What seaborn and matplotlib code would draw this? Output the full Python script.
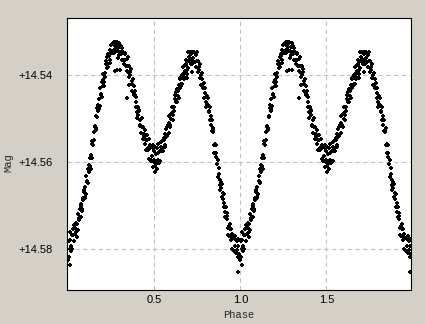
import numpy as np
import pandas as pd
import seaborn as sns
import matplotlib.pyplot as plt
from matplotlib.ticker import FixedLocator, FixedFormatter

# Light curve, one folded cycle.
# mag = 14.5 + mmag / 1000
# first set: points every 0.004 in phase starting at 0
phase_step = 0.004
mmag = [
    82.4, 78.1, 79.9, 76.0, 80.4,  76.8, 79.9, 76.8, 78.1, 74.5,
    76.5, 73.9, 76.1, 74.3, 75.5,  72.9, 73.4, 70.7, 72.7, 70.0,
    70.7, 68.2, 68.7, 66.4, 68.2,  65.8, 67.2, 64.4, 64.6, 61.5,
    62.3, 59.1, 60.8, 58.4, 59.1,  55.9, 56.1, 53.1, 54.8, 51.8,
    52.2, 49.3, 49.5, 46.8, 48.3,  45.5, 47.0, 44.3, 44.6, 41.6,
    42.5, 39.6, 41.5, 39.4, 40.3,  37.4, 38.2, 35.7, 38.0, 35.5,
    36.5, 34.1, 34.9, 32.7, 34.8,  32.5, 34.8, 32.9, 34.0, 32.3,
    33.5, 32.4, 34.5, 33.4, 35.3,  33.4, 35.0, 33.3, 36.4, 34.7,
    36.5, 34.9, 36.4, 35.0, 37.8,  36.3, 39.1, 37.8, 39.4, 37.8,
    40.0, 38.6, 42.0, 41.4, 43.8,  42.4, 44.6, 43.5, 47.2, 46.1,
    48.5, 47.3, 49.2, 48.2, 51.4,  50.3, 53.2, 51.9, 53.6, 52.0,
    54.3, 52.6, 55.7, 54.8, 56.9,  54.9, 57.2, 54.7, 59.3, 56.8,
    59.4, 56.6, 58.5, 56.1, 59.9,  57.3, 60.9, 58.1, 59.9, 56.7,
    59.4, 55.9, 59.6, 57.3, 59.6,  56.4, 57.3, 54.9, 57.3, 54.9,
    56.0, 53.5, 54.2, 51.9, 53.9,  51.5, 53.3, 50.9, 51.5, 48.8,
    50.0, 47.2, 49.2, 47.2, 48.2,  45.4, 46.2, 43.8, 46.1, 43.7,
    44.7, 42.2, 42.8, 40.5, 42.4,  40.0, 41.9, 39.6, 40.3, 37.7,
    39.0, 36.5, 38.7, 37.0, 38.2,  35.7, 36.8, 34.7, 37.3, 35.2,
    36.5, 34.7, 36.0, 34.6, 37.0,  35.3, 38.1, 36.7, 38.3, 36.6,
    38.8, 37.3, 40.7, 40.0, 42.4,  40.9, 42.9, 41.7, 45.2, 44.0,
    46.2, 44.8, 46.5, 45.3, 48.3,  47.0, 50.3, 49.4, 51.5, 50.3,
    53.0, 52.1, 56.0, 55.9, 58.8,  57.9, 60.3, 59.5, 63.4, 62.6,
    65.2, 64.0, 65.9, 64.9, 68.1,  67.0, 70.3, 69.4, 71.5, 70.3,
    73.0, 71.7, 75.1, 74.6, 77.0,  75.4, 77.8, 75.3, 79.9, 77.5,
    80.1, 77.4, 79.3, 76.9, 80.8,  78.2, 81.9, 79.2, 81.1, 78.0,
]
# second night: points every 0.008 in phase starting at 0.002
phase2_start = 0.002
phase2_step = 0.008
mmag2 = [
    81.8, 77.8, 79.3, 75.4, 78.2,  75.2, 77.2, 72.0, 72.6, 69.6,
    71.2, 66.8, 67.9, 63.1, 64.8,  60.7, 61.6, 55.2, 55.2, 51.6,
    52.6, 47.4, 47.8, 43.0, 44.9,  41.0, 42.4, 36.6, 37.5, 35.0,
    37.1, 33.0, 34.5, 32.4, 34.7,  32.5, 35.9, 32.5, 34.7, 33.8,
    37.5, 34.9, 37.9, 35.8, 40.4,  39.3, 43.7, 40.9, 44.6, 44.9,
    49.7, 47.9, 51.7, 49.9, 54.6,  53.4, 57.2, 53.8, 56.7, 56.0,
    59.8, 56.8, 59.5, 56.6, 60.2,  57.8, 60.2, 55.4, 56.7, 54.4,
    56.6, 52.3, 53.6, 49.4, 51.9,  48.6, 50.2, 44.6, 45.6, 43.2,
    45.3, 40.9, 42.1, 38.1, 40.8,  37.7, 39.8, 34.7, 36.3, 34.6,
    37.4, 34.6, 37.0, 34.7, 39.2,  38.0, 42.3, 39.4, 42.9, 42.9,
    47.3, 45.1, 48.5, 47.2, 52.7,  52.5, 57.9, 56.1, 60.5, 61.3,
    66.4, 64.6, 68.4, 67.2, 72.7,  72.3, 76.8, 74.1, 77.2, 76.6,
    80.4, 77.6, 80.3, 77.6, 81.4,
]
# stray points off the main band
extra_phase = [0.010, 0.987, 0.506, 0.270, 0.285, 0.300, 0.353, 0.343, 0.719, 0.690, 0.494, 0.516]
extra_mmag = [83.6, 85.2, 62.3, 39.0, 38.7, 38.8, 42.2, 45.2, 39.2, 40.7, 61.0, 61.5]

yticks = [14.54, 14.56, 14.58]
xticks = [0.5, 1.0, 1.5]

# fold: show the cycle twice
phase = np.concatenate([np.arange(len(mmag)) * phase_step,
                        phase2_start + np.arange(len(mmag2)) * phase2_step,
                        extra_phase])
mag = 14.5 + np.concatenate([mmag, mmag2, extra_mmag]) / 1000.0
df = pd.DataFrame({'Phase': np.concatenate([phase, phase + 1]),
                   'Mag': np.concatenate([mag, mag])})

sns.set_style('white')
plt.rcParams['font.family'] = ['Liberation Sans', 'DejaVu Sans']

fig = plt.figure(figsize=(4.25, 3.24), dpi=100, facecolor='#d4d0c8')
ax = fig.add_axes([67 / 425, 1 - 290 / 324, 344 / 425, 272 / 324])
ax.set_facecolor('white')

sns.scatterplot(data=df, x='Phase', y='Mag', ax=ax, marker='P', s=10,
                color='black', linewidth=0, legend=False)

ax.set_xlim(-0.007, 1.992)
ax.set_ylim(14.5894, 14.5268)

ax.xaxis.set_major_locator(FixedLocator(xticks))
ax.xaxis.set_major_formatter(FixedFormatter([f'{v:.1f}' for v in xticks]))
ax.yaxis.set_major_locator(FixedLocator(yticks))
ax.yaxis.set_major_formatter(FixedFormatter([f'+{v:.2f}' for v in yticks]))
ax.tick_params(axis='both', length=0, labelsize=8, colors='black')
ax.tick_params(axis='y', pad=10.5)
ax.tick_params(axis='x', pad=3.5)

ax.grid(True, color='#c0c0c0', linestyle=(0, (4, 3)), linewidth=0.8)
ax.set_axisbelow(True)
for s in ax.spines.values():
    s.set_visible(True)
    s.set_color('black')
    s.set_linewidth(0.8)

ax.set_xlabel('')
ax.set_ylabel('')
fig.text(239 / 425, 1 - 315 / 324, 'Phase', family='Liberation Mono', fontsize=7.5,
         ha='center', va='center')
fig.text(8 / 425, 1 - 163 / 324, 'Mag', family='Liberation Mono', fontsize=7.5,
         ha='center', va='center', rotation=90)

fig.savefig('out.png', dpi=100, facecolor=fig.get_facecolor())
